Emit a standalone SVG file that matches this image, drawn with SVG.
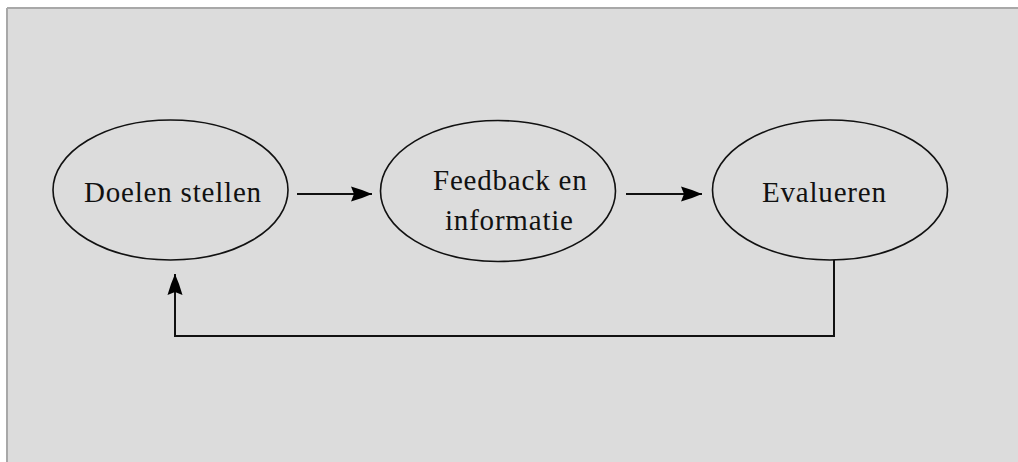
<svg xmlns="http://www.w3.org/2000/svg" width="1018" height="462" viewBox="0 0 1018 462">
  <style>
    .node ellipse { fill: none; stroke: #111; stroke-width: 1.6; }
    .label { font-family: "Liberation Serif", "Times New Roman", serif; font-size: 29px; letter-spacing: 0.8px; fill: #111; }
    .conn { fill: none; stroke: #111; stroke-width: 2; }
  </style>
  <defs>
    <marker id="arrow" markerUnits="userSpaceOnUse" markerWidth="26" markerHeight="18" viewBox="-23 -9 26 18" refX="0" refY="0" orient="auto">
      <path d="M0,0 L-10,-4 L-21,-7.5 L-18,0 L-21,7.5 L-10,4 Z" fill="#000"/>
    </marker>
  </defs>
  <rect x="0" y="0" width="1018" height="462" fill="#ffffff"/>
  <rect x="7" y="8" width="1011" height="454" fill="#dcdcdc"/>
  <line x1="7" y1="8" x2="1018" y2="8" stroke="#a8a8a8" stroke-width="2"/>
  <line x1="7" y1="8" x2="7" y2="462" stroke="#a8a8a8" stroke-width="2"/>

  <g id="node-doelen" class="node">
    <ellipse cx="170.5" cy="190" rx="117.5" ry="70"/>
    <text class="label" x="84" y="202">Doelen stellen</text>
  </g>
  <g id="node-feedback" class="node">
    <ellipse cx="498" cy="191" rx="117.5" ry="70.5"/>
    <text class="label" x="433" y="190">Feedback en</text>
    <text class="label" x="445" y="230">informatie</text>
  </g>
  <g id="node-evalueren" class="node">
    <ellipse cx="830" cy="190" rx="117.5" ry="70"/>
    <text class="label" x="762" y="202">Evalueren</text>
  </g>

  <g id="connectors">
    <line class="conn" x1="297" y1="194" x2="372" y2="194" marker-end="url(#arrow)"/>
    <line class="conn" x1="626" y1="194" x2="702" y2="194" marker-end="url(#arrow)"/>
    <polyline class="conn" points="834,260 834,336 175,336 175,274" marker-end="url(#arrow)"/>
  </g>
</svg>
